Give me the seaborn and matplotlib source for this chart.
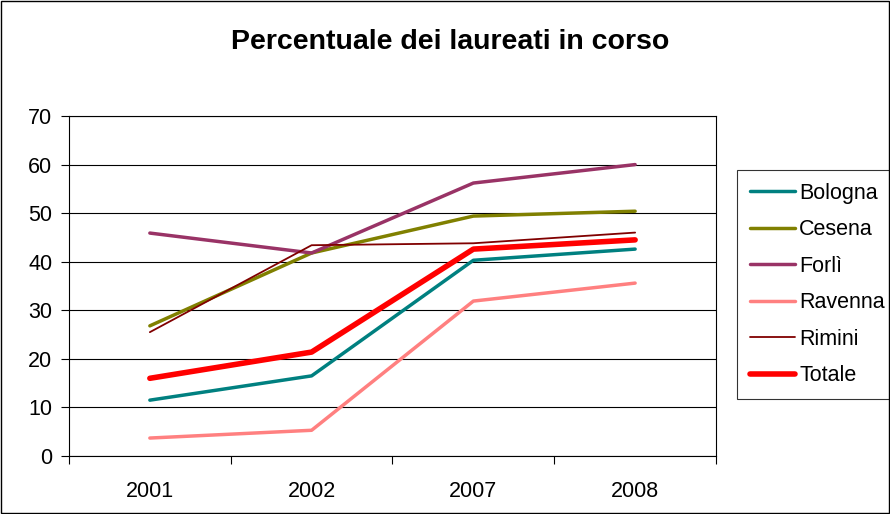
import matplotlib
matplotlib.use("Agg")
import matplotlib.pyplot as plt
import seaborn as sns
import pandas as pd

years = ["2001", "2002", "2007", "2008"]
bologna = [11.5, 16.5, 40.3, 42.6]
cesena = [26.8, 41.8, 49.4, 50.4]
forli = [45.9, 41.8, 56.2, 60.0]
ravenna = [3.7, 5.3, 31.9, 35.6]
rimini = [25.5, 43.4, 43.8, 46.0]
totale = [16.0, 21.4, 42.6, 44.5]

series = [
    ("Bologna", bologna, "#008080", 2.5),
    ("Cesena", cesena, "#808000", 2.5),
    ("Forlì", forli, "#993366", 2.5),
    ("Ravenna", ravenna, "#FF8080", 2.5),
    ("Rimini", rimini, "#800000", 1.3),
    ("Totale", totale, "#FF0000", 4.0),
]

sns.set_style("white")
plt.rcParams["font.family"] = ["Liberation Sans", "DejaVu Sans"]
plt.rcParams["text.color"] = "black"
plt.rcParams["xtick.color"] = "black"
plt.rcParams["ytick.color"] = "black"

fig = plt.figure(figsize=(8.9, 5.14), dpi=100)
ax = fig.add_axes([0.0775, 0.1128, 0.7270, 0.6615])

xpos = list(range(len(years)))
for name, vals, color, lw in series:
    df = pd.DataFrame({"x": xpos, "y": vals})
    sns.lineplot(data=df, x="x", y="y", ax=ax, color=color, linewidth=lw, label=name)

ax.set_xlim(-0.5, 3.5)
ax.set_ylim(0, 70)
ax.set_yticks(range(0, 71, 10))
ax.yaxis.grid(True, color="black", linewidth=0.8)
ax.set_axisbelow(True)
ax.set_xticks([-0.5, 0.5, 1.5, 2.5, 3.5])
ax.set_xticklabels([])
ax.set_xticks(xpos, minor=True)
ax.set_xticklabels(years, minor=True)
ax.tick_params(axis="x", which="major", direction="out", length=6, width=0.8, bottom=True)
ax.tick_params(axis="x", which="minor", length=0, pad=18, labelsize=15.5)
ax.tick_params(axis="y", direction="out", length=6, width=0.8, left=True, labelsize=15.5, pad=6)
ax.set_xlabel("")
ax.set_ylabel("")
for sp in ax.spines.values():
    sp.set_color("black")
    sp.set_linewidth(0.8)

fig.text(0.506, 0.918, "Percentuale dei laureati in corso", ha="center", va="center",
         fontsize=20.5, fontweight="bold")

leg = ax.legend(loc="upper left", bbox_to_anchor=(1.032, 0.841), frameon=True, fancybox=False,
                edgecolor="black", fontsize=15.5, handlelength=2.1, handletextpad=0.2,
                labelspacing=0.72, borderpad=0.6, borderaxespad=0)
leg.get_frame().set_linewidth(0.8)

fig.patches.append(plt.Rectangle((0.001, 0.001), 0.998, 0.998, transform=fig.transFigure,
                                 fill=False, edgecolor="black", linewidth=1))

fig.savefig("out.png", dpi=100)
